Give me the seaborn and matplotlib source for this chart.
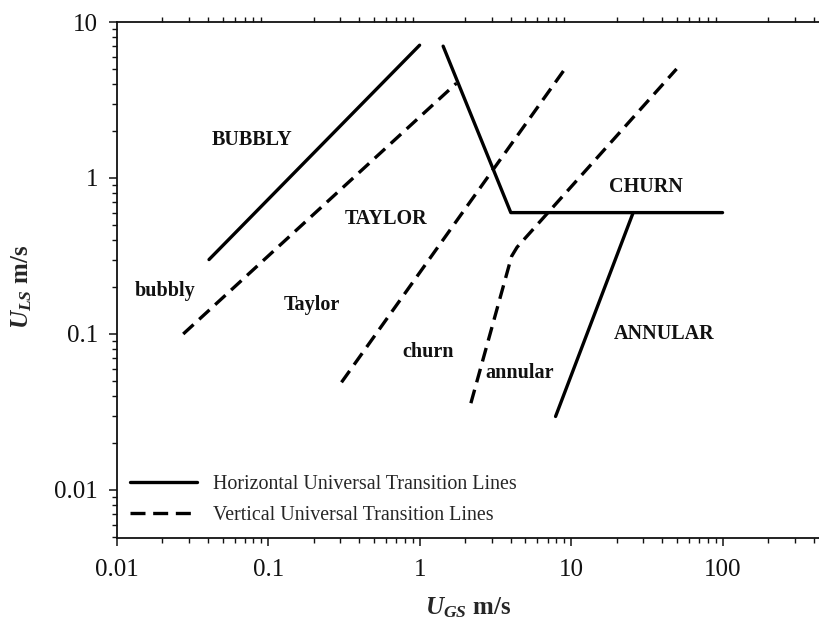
import numpy as np
import pandas as pd
import seaborn as sns
import matplotlib
matplotlib.use("Agg")
import matplotlib.pyplot as plt
from matplotlib.lines import Line2D
from matplotlib.ticker import LogLocator, NullFormatter, FixedLocator, FixedFormatter

# ---- data ----
# Horizontal universal transition lines (solid)
h1_x = [0.0407, 1.0]
h1_y = [0.30, 7.1]
h2_x = [1.43, 4.0, 100.0]
h2_y = [7.0, 0.60, 0.60]
h3_x = [7.9, 25.7]
h3_y = [0.0296, 0.60]

# Vertical universal transition lines (dashed)
v1_x = [0.0275, 1.75]
v1_y = [0.10, 4.05]
v2_x = [0.305, 9.1]
v2_y = [0.049, 5.0]
v3_x = [2.18, 4.05, 4.4, 49.7]
v3_y = [0.036, 0.315, 0.36, 5.0]

# regime labels: (text, x, y)
label_text = ["BUBBLY", "TAYLOR", "CHURN", "ANNULAR", "bubbly", "Taylor", "churn", "annular"]
label_x = [0.078, 0.60, 31.0, 41.4, 0.021, 0.194, 1.14, 4.54]
label_y = [1.75, 0.548, 0.87, 0.10, 0.189, 0.153, 0.077, 0.0565]

x_ticks = [0.01, 0.1, 1, 10, 100]
x_ticklabels = ["0.01", "0.1", "1", "10", "100"]
y_ticks = [0.01, 0.1, 1, 10]
y_ticklabels = ["0.01", "0.1", "1", "10"]

legend_labels = ["Horizontal Universal Transition Lines", "Vertical Universal Transition Lines"]

# ---- style ----
sns.set_theme(style="ticks")
serif = "Liberation Serif"
plt.rcParams["font.family"] = [serif, "DejaVu Serif"]
plt.rcParams["mathtext.fontset"] = "custom"
plt.rcParams["mathtext.rm"] = serif
plt.rcParams["mathtext.it"] = serif + ":italic"
plt.rcParams["mathtext.bf"] = serif + ":bold"
plt.rcParams["mathtext.bfit"] = serif + ":italic:bold"

fig = plt.figure(figsize=(8.2, 6.25), dpi=100)
ax = fig.add_axes([0.1423, 0.1387, 1.0 - 0.1423, 0.8261])
ax.set_xscale("log")
ax.set_yscale("log")

lw = 2.4
dash = (0, (4.2, 2.3))

def draw(xs, ys, ls):
    df = pd.DataFrame({"x": xs, "y": ys})
    sns.lineplot(data=df, x="x", y="y", ax=ax, color="black", sort=False,
                 estimator=None, linewidth=lw, linestyle=ls)

for xs, ys in [(h1_x, h1_y), (h2_x, h2_y), (h3_x, h3_y)]:
    draw(xs, ys, "-")
for xs, ys in [(v1_x, v1_y), (v2_x, v2_y), (v3_x, v3_y)]:
    draw(xs, ys, dash)

for t, x, y in zip(label_text, label_x, label_y):
    ax.text(x, y, t, ha="center", va="center", fontsize=14.5, fontweight="bold",
            family=serif, color="#111111")

ax.set_xlim(0.01, 440)
ax.set_ylim(0.0049, 10)

ax.xaxis.set_major_locator(FixedLocator(x_ticks))
ax.xaxis.set_major_formatter(FixedFormatter(x_ticklabels))
ax.yaxis.set_major_locator(FixedLocator(y_ticks))
ax.yaxis.set_major_formatter(FixedFormatter(y_ticklabels))
ax.xaxis.set_minor_locator(LogLocator(base=10, subs=np.arange(2, 10), numticks=20))
ax.yaxis.set_minor_locator(LogLocator(base=10, subs=np.arange(2, 10), numticks=20))
ax.xaxis.set_minor_formatter(NullFormatter())
ax.yaxis.set_minor_formatter(NullFormatter())

ax.tick_params(axis="x", which="major", direction="out", length=6, width=1.1,
               bottom=True, top=False, labelsize=18, pad=9, colors="#111111")
ax.tick_params(axis="x", which="minor", direction="out", length=3.6, width=1.0,
               bottom=True, top=True, colors="#111111")
ax.tick_params(axis="y", which="major", direction="out", length=5.5, width=1.1,
               left=True, right=False, labelsize=18, pad=8, colors="#111111")
ax.tick_params(axis="y", which="minor", direction="out", length=3.6, width=1.0,
               left=True, right=False, colors="#111111")

for s in ["left", "bottom", "top"]:
    ax.spines[s].set_linewidth(1.3)
    ax.spines[s].set_color("#111111")
ax.spines["right"].set_visible(False)

ax.set_xlabel(r"$\mathbfit{U}_{\mathbfit{GS}}$ m/s", fontsize=18, fontweight="bold", labelpad=10)
ax.set_ylabel(r"$\mathbfit{U}_{\mathbfit{LS}}$ m/s", fontsize=18, fontweight="bold")
ax.yaxis.set_label_coords(-0.118, 0.487)

handles = [Line2D([0], [0], color="black", lw=lw, linestyle="-"),
           Line2D([0], [0], color="black", lw=lw, linestyle=(0, (4.5, 2.3)))]
ax.legend(handles, legend_labels, loc="lower left", bbox_to_anchor=(0.019, 0.025),
          frameon=False, fontsize=14.4, handlelength=3.35, handletextpad=0.8,
          labelspacing=0.6, borderpad=0, borderaxespad=0)

fig.savefig("out.png", dpi=100)
